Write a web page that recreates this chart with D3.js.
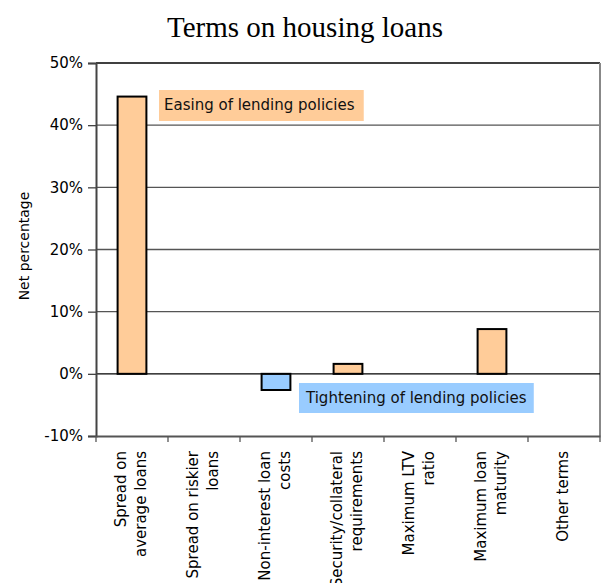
<!DOCTYPE html>
<html>
<head>
<meta charset="utf-8">
<script src="https://cdn.jsdelivr.net/npm/d3@7/dist/d3.min.js"></script>
<style>
  html, body { margin: 0; padding: 0; background: #fff; }
  svg { display: block; }
</style>
</head>
<body>
<script>
// Survey categories (line breaks as shown under the axis)
const categories = [
  ["Spread on", "average loans"],
  ["Spread on riskier", "loans"],
  ["Non-interest loan", "costs"],
  ["Security/collateral", "requirements"],
  ["Maximum LTV", "ratio"],
  ["Maximum loan", "maturity"],
  ["Other terms"]
];
// Net percentage per category
const values = [44.6, 0, -2.6, 1.6, 0, 7.2, 0];
const yTicks = [-10, 0, 10, 20, 30, 40, 50];
const titleText = "Terms on housing loans";
const yAxisTitle = "Net percentage";
const easingLabel = "Easing of lending policies";
const tighteningLabel = "Tightening of lending policies";

const W = 615, H = 583;
const margin = { left: 96, right: 15, top: 63, bottom: 147 };
const font = "'DejaVu Sans', Verdana, sans-serif";
const orange = "#FFCC99", blue = "#99CCFF";

const svg = d3.select("body").append("svg").attr("width", W).attr("height", H);

const keys = categories.map(c => c.join(" "));
const x = d3.scaleBand().domain(keys).range([margin.left, W - margin.right]);
const y = d3.scaleLinear().domain([-10, 50]).range([H - margin.bottom, margin.top]);

// Title
svg.append("text")
  .attr("x", 305).attr("y", 37)
  .attr("text-anchor", "middle")
  .style("font-family", "'Liberation Serif', 'Times New Roman', serif")
  .style("font-size", "29px")
  .text(titleText);

// Horizontal gridlines (10%..40%)
svg.append("g").selectAll("line")
  .data(yTicks.filter(t => t > 0 && t < 50))
  .join("line")
  .attr("x1", x.range()[0]).attr("x2", x.range()[1])
  .attr("y1", d => y(d)).attr("y2", d => y(d))
  .attr("stroke", "#555").attr("stroke-width", 1.3);

// Plot frame: top and right edges
svg.append("line")
  .attr("x1", x.range()[0]).attr("x2", x.range()[1])
  .attr("y1", y(50)).attr("y2", y(50))
  .attr("stroke", "#000").attr("stroke-width", 1.5);
svg.append("line")
  .attr("x1", x.range()[1]).attr("x2", x.range()[1])
  .attr("y1", y(50)).attr("y2", y(-10))
  .attr("stroke", "#888").attr("stroke-width", 2);

// Bars
const bw = x.bandwidth() * 0.4;
svg.append("g").selectAll("rect")
  .data(values.map((v, i) => ({ key: keys[i], v })).filter(d => d.v !== 0))
  .join("rect")
  .attr("x", d => x(d.key) + (x.bandwidth() - bw) / 2)
  .attr("y", d => y(Math.max(0, d.v)))
  .attr("width", bw)
  .attr("height", d => Math.abs(y(d.v) - y(0)))
  .attr("fill", d => d.v >= 0 ? orange : blue)
  .attr("stroke", "#000").attr("stroke-width", 2);

// Zero line
svg.append("line")
  .attr("x1", x.range()[0]).attr("x2", x.range()[1])
  .attr("y1", y(0)).attr("y2", y(0))
  .attr("stroke", "#000").attr("stroke-width", 1.3);

// Y axis
const yAxis = d3.axisLeft(y).tickValues(yTicks).tickSize(8).tickPadding(5)
  .tickFormat(d => d + "%");
const gy = svg.append("g").attr("transform", `translate(${margin.left},0)`).call(yAxis);
gy.select(".domain").attr("stroke", "#444").attr("stroke-width", 2);
gy.selectAll(".tick line").attr("stroke", "#444").attr("stroke-width", 1.3);
gy.selectAll(".tick text")
  .style("font-family", font).style("font-size", "15px").attr("fill", "#000");

// X axis at the bottom of the plot
const xAxis = d3.axisBottom(x).tickSize(0).tickFormat("");
const gx = svg.append("g").attr("transform", `translate(0,${y(-10)})`).call(xAxis);
gx.select(".domain").attr("stroke", "#555").attr("stroke-width", 2);
// Tick marks between categories
const bounds = keys.map(k => x(k)).concat([x.range()[1]]);
svg.append("g").selectAll("line")
  .data(bounds)
  .join("line")
  .attr("x1", d => d).attr("x2", d => d)
  .attr("y1", y(-10)).attr("y2", y(-10) + 6)
  .attr("stroke", "#555").attr("stroke-width", 1.3);

// Rotated category labels
const lineGap = 20;
categories.forEach((lines, i) => {
  const cx = x(keys[i]) + x.bandwidth() / 2;
  lines.forEach((ln, j) => {
    const off = (j - (lines.length - 1) / 2) * lineGap + 4;
    svg.append("text")
      .attr("transform", `translate(${cx + off},451) rotate(-90)`)
      .attr("text-anchor", "end")
      .style("font-family", font).style("font-size", "15px")
      .text(ln);
  });
});

// Y axis title
svg.append("text")
  .attr("transform", `translate(29,246) rotate(-90)`)
  .attr("text-anchor", "middle")
  .style("font-family", font).style("font-size", "14px")
  .text(yAxisTitle);

// Annotation boxes
function noteBox(label, tx, ty, fill, padL, padR, top, bottom) {
  const g = svg.append("g");
  const rect = g.append("rect").attr("fill", fill);
  const t = g.append("text")
    .attr("x", tx).attr("y", ty)
    .style("font-family", font).style("font-size", "15px")
    .attr("fill", "#111")
    .text(label);
  const b = t.node().getBBox();
  rect.attr("x", b.x - padL).attr("y", top)
    .attr("width", b.width + padL + padR).attr("height", bottom - top);
}
noteBox(easingLabel, 164, 110, orange, 5, 9, 90, 121);
noteBox(tighteningLabel, 306, 403, blue, 6, 7, 383, 413);
</script>
</body>
</html>
